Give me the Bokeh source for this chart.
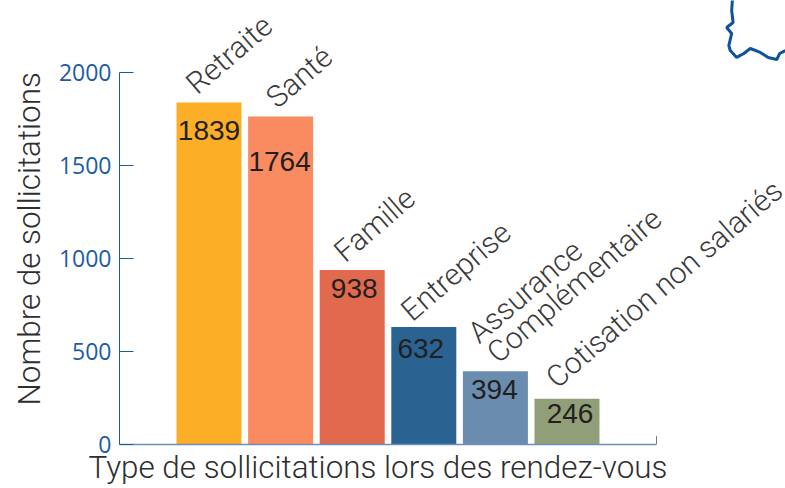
from bokeh.plotting import figure
from bokeh.models import Range1d, Label, LabelSet, ColumnDataSource, FixedTicker, Title
from bokeh.core.properties import value
from bokeh.embed import file_html
from bokeh.resources import INLINE

categories = ["Retraite", "Santé", "Famille", "Entreprise", "Assurance", "Complémentaire", "Cotisation non salariés"]
values = [1839, 1764, 938, 632, 394, 246]
colors = ["#FBAE26", "#FA8B61", "#E1694E", "#2A6291", "#6A8DAF", "#919F78"]
y_ticks = [0, 500, 1000, 1500, 2000]
y_axis_title = "Nombre de sollicitations"
x_axis_title = "Type de sollicitations lors des rendez-vous"
positions = [0, 1, 2, 3, 4, 5]
# Outline of the inset map, in the chart's own coordinates
map_x = [7.31, 7.30, 7.32, 7.23, 7.30, 7.26, 7.28, 7.37, 7.47, 7.56, 7.70, 7.81, 7.93, 7.97, 8.05]
map_y = [2390, 2333, 2269, 2242, 2210, 2145, 2118, 2081, 2102, 2129, 2108, 2081, 2070, 2102, 2118]

W, H = 785, 488
L, R, T, B = 119, 0, 0, 44
px_per_cat = 71.6
x0 = (119 - 208.5) / px_per_cat
x1 = x0 + (W - L) / px_per_cat
x_end = x0 + (656 - 119) / px_per_cat
px_per_val = (444 - 72) / 2000
y1 = (H - B) / px_per_val
label_dx = [0, -1, 2, -3, -1, 3]
label_dy = [-38, -55, -27.5, -31.5, -28, -24]


def sx(px):
    return px - L


def sy(py):
    return H - B - py


p = figure(width=W, height=H, output_backend="svg", toolbar_location=None,
           x_range=Range1d(x0, x1), y_range=Range1d(0, y1),
           min_border_left=L, min_border_right=R, min_border_top=T, min_border_bottom=B,
           outline_line_color=None)
p.grid.visible = False

src = ColumnDataSource(dict(x=positions, top=values, color=colors, label=[str(v) for v in values],
                            dx=label_dx, dy=label_dy))
p.vbar(x="x", top="top", bottom=0, width=0.908, fill_color="color", line_color=None, source=src)
p.line(map_x, map_y, line_color="#0F529B", line_width=3)
p.segment(x0=[x_end], y0=[0], x1=[x_end], y1=[45], line_color="#777777", line_width=1)

# Axes
ax = p.xaxis[0]
ax.bounds = (x0, x_end)
ax.ticker = FixedTicker(ticks=[])
ax.minor_tick_line_color = None
ax.axis_line_color = "#6A8FBF"
ax.axis_line_width = 1.5

ay = p.yaxis[0]
ay.bounds = (0, 2000)
ay.ticker = FixedTicker(ticks=y_ticks)
ay.major_tick_in = 14
ay.major_tick_out = 0
ay.major_tick_line_color = "#1F5A9E"
ay.minor_tick_line_color = None
ay.axis_line_color = "#1F5A9E"
ay.axis_line_width = 1
ay.major_label_text_font = "Open Sans"
ay.major_label_text_font_size = "23px"
ay.major_label_text_color = "#1B5CA4"
ay.major_label_standoff = 8

# Value labels
p.add_layout(LabelSet(x="x", y="top", text="label", source=src, y_offset="dy", x_offset="dx",
                      text_align="center", text_baseline="alphabetic", text_font=value("Liberation Sans"),
                      text_font_size="28px", text_color="#231F20"))

# Rotated category labels
angle = 0.71
anchors = [(190, 87), (270, 101), (338, 255), (405, 314), (472, 336), (491, 356), (550, 381)]
for name, (ax_px, ay_px) in zip(categories, anchors):
    p.add_layout(Label(x=sx(ax_px), y=sy(ay_px), x_units="screen", y_units="screen",
                       text=name, angle=angle, text_baseline="alphabetic", text_font="Roboto Light",
                       text_font_size="30px", text_color="#3A3A3A"))

# Axis titles
p.add_layout(Title(text=x_axis_title, align="left", offset=-31, standoff=5, text_font="Roboto Light",
                   text_font_size="31.4px", text_font_style="normal", text_color="#2E2E2E"), "below")
p.add_layout(Title(text=y_axis_title, align="left", offset=39, standoff=16, text_font="Roboto Light",
                   text_font_size="31.4px", text_font_style="normal", text_color="#2E2E2E"), "left")

open("out.html", "w").write(file_html(p, INLINE))
